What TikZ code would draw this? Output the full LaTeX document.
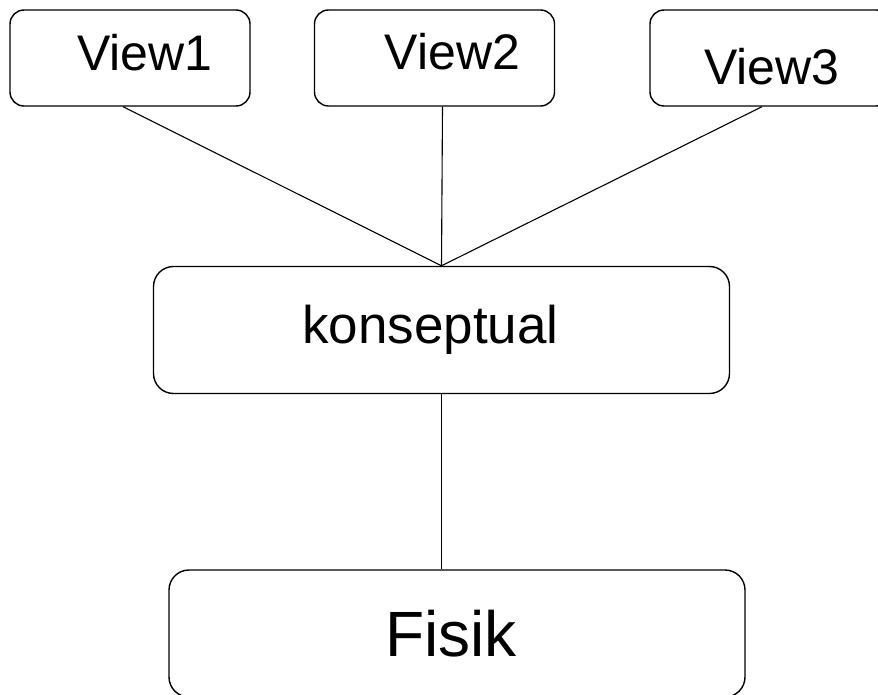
\documentclass[tikz,border=0pt]{standalone}
\usepackage{fontspec}
\setmainfont{Liberation Sans}
\usepackage{tikz}
\usetikzlibrary{positioning}

\begin{document}
\begin{tikzpicture}[
    x=1pt, y=-1pt,
    line width=1.4pt,
    viewbox/.style={
        rectangle, rounded corners=14pt,
        draw=black,
        minimum width=240pt, minimum height=96pt,
        inner sep=0pt
    },
    levelbox/.style={
        rectangle, rounded corners=20pt,
        draw=black,
        minimum width=576pt, minimum height=127pt,
        inner sep=0pt
    },
    vtext/.style={font=\fontsize{50}{56}\selectfont, inner sep=0pt},
    ltext/.style={inner sep=0pt},
    link/.style={black, line width=1.1pt}
]
\clip (0,0) rectangle (878,695);

% tingkat view
\node[viewbox, label={[vtext, xshift=15pt, yshift=5pt]center:View1}] (view1) at (130,58) {};
\node[viewbox, label={[vtext, xshift=18pt, yshift=6pt]center:View2}] (view2) at (434.5,58) {};
\node[viewbox, label={[vtext, xshift=2pt, yshift=-9pt]center:View3}] (view3) at (770,58) {};

% tingkat konseptual dan fisik
\node[levelbox, label={[ltext, font=\fontsize{53}{58}\selectfont, xshift=-11pt]center:konseptual}] (konsep) at (441.5,330) {};
\node[levelbox, label={[ltext, font=\fontsize{64}{70}\selectfont, xshift=-6pt]center:Fisik}] (fisik) at (457,633.5) {};

\draw[link] ([xshift=-7pt]view1.south) -- (konsep.north);
\draw[link] ([xshift=8pt]view2.south) -- (konsep.north);
\draw[link] ([xshift=-8pt]view3.south) -- (konsep.north);
\draw[link] (konsep.south) -- (konsep.south |- fisik.north);

\end{tikzpicture}
\end{document}
